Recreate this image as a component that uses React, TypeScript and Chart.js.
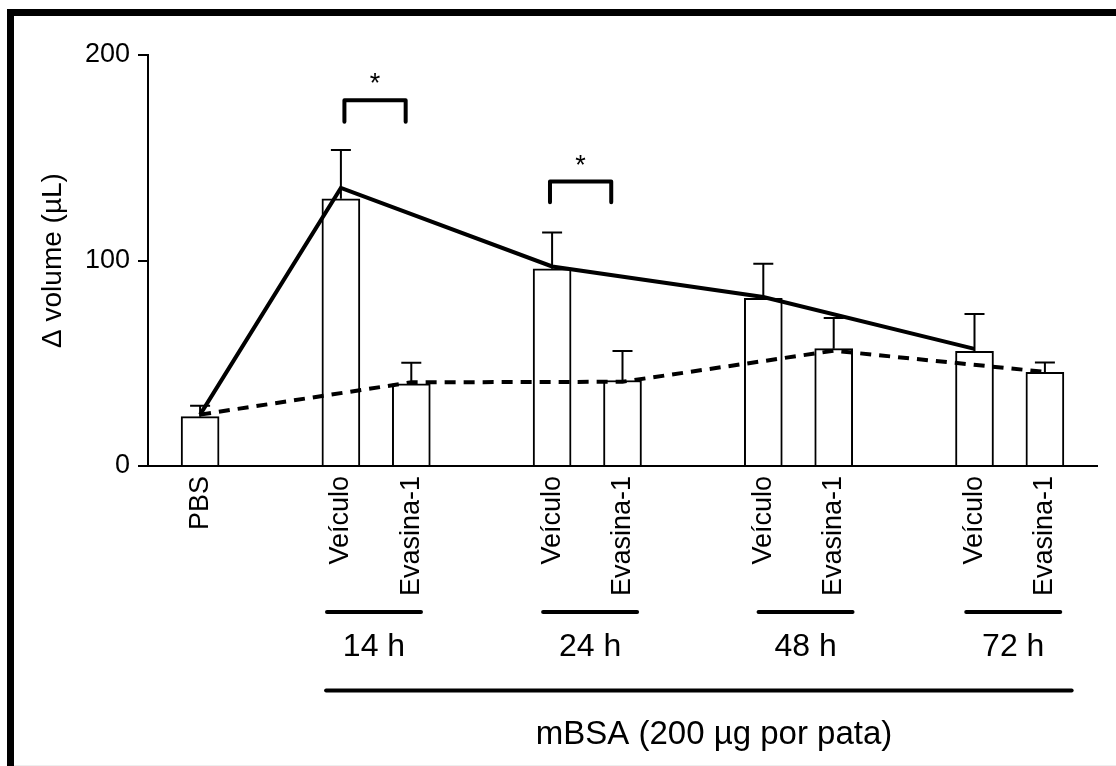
import React, { useEffect, useRef } from 'react';
import { Chart, registerables } from 'chart.js';

Chart.register(...registerables);

// ---- data ----
const categories = ['PBS', 'Veículo', 'Evasina-1', 'Veículo', 'Evasina-1', 'Veículo', 'Evasina-1', 'Veículo', 'Evasina-1'];
const slotPositions = [0, 2, 3, 5, 6, 8, 9, 11, 12];
const barValues = [24, 130, 40, 96, 41.6, 81.6, 57.1, 55.8, 45.6];
const errorTops = [29.3, 153.8, 50.2, 113.6, 56, 98.4, 72, 74, 50.4];
const vehicleLineX = [0, 2, 5, 8, 11];
const vehicleLineY = [25, 135.3, 97.1, 82.2, 57];
const evasinLineX = [0, 3, 6, 9, 12];
const evasinLineY = [25, 40.7, 41, 56.1, 45.8];
const groupLabels = ['14 h', '24 h', '48 h', '72 h'];
const groupCenters = [2.47, 5.54, 8.6, 11.55];
const yTickValues = [0, 100, 200];
const bracketFrom = [2.05, 4.97];
const bracketTo = [2.92, 5.84];
const bracketTop = [178, 138.4];
const bracketLeg = [167.5, 128.4];
const bracketMark = ['*', '*'];
const treatmentLabel = 'mBSA (200 µg por pata)';
const treatmentSpan = [1.79, 12.38];
const yTitle = 'Δ volume (µL)';

const FONT = '"Liberation Sans", Arial, Helvetica, sans-serif';

const decorPlugin = {
  id: 'decor',
  beforeDraw(chart: any) {
    const ctx = chart.ctx;
    ctx.save();
    ctx.fillStyle = '#fff';
    ctx.fillRect(0, 0, chart.width, chart.height);
    ctx.fillStyle = '#000';
    ctx.fillRect(7, 9, chart.width - 7, 7);
    ctx.fillRect(7, 9, 7, chart.height - 9);
    ctx.fillStyle = '#eeeeee';
    ctx.fillRect(14, chart.height - 1, chart.width - 14, 1);
    ctx.restore();
  },
  afterDatasetsDraw(chart: any) {
    const ctx = chart.ctx;
    const xs = chart.scales.x;
    const ys = chart.scales.y;
    ctx.save();
    ctx.strokeStyle = '#000';
    ctx.fillStyle = '#000';
    // error bars
    ctx.lineWidth = 2;
    for (let i = 0; i < barValues.length; i++) {
      const cx = xs.getPixelForValue(slotPositions[i]);
      const y1 = ys.getPixelForValue(barValues[i]);
      const y2 = ys.getPixelForValue(errorTops[i]);
      ctx.beginPath();
      ctx.moveTo(cx, y1);
      ctx.lineTo(cx, y2);
      ctx.moveTo(cx - 10, y2);
      ctx.lineTo(cx + 10, y2);
      ctx.stroke();
    }
    // significance brackets
    ctx.lineWidth = 4;
    ctx.lineCap = 'round';
    ctx.lineJoin = 'round';
    ctx.font = `27px ${FONT}`;
    ctx.textAlign = 'center';
    ctx.textBaseline = 'alphabetic';
    for (let i = 0; i < bracketFrom.length; i++) {
      const xa = xs.getPixelForValue(bracketFrom[i]);
      const xb = xs.getPixelForValue(bracketTo[i]);
      const yt = ys.getPixelForValue(bracketTop[i]);
      const yl = ys.getPixelForValue(bracketLeg[i]);
      ctx.beginPath();
      ctx.moveTo(xa, yl);
      ctx.lineTo(xa, yt);
      ctx.lineTo(xb, yt);
      ctx.lineTo(xb, yl);
      ctx.stroke();
      ctx.fillText(bracketMark[i], (xa + xb) / 2, yt - 8);
    }
    ctx.restore();
  },
  afterDraw(chart: any) {
    const ctx = chart.ctx;
    const xs = chart.scales.x;
    ctx.save();
    ctx.strokeStyle = '#000';
    ctx.fillStyle = '#000';
    ctx.lineCap = 'round';
    // group lines + labels
    ctx.lineWidth = 4;
    ctx.font = `32px ${FONT}`;
    ctx.textAlign = 'center';
    ctx.textBaseline = 'alphabetic';
    for (let i = 0; i < groupLabels.length; i++) {
      const cx = xs.getPixelForValue(groupCenters[i]);
      ctx.beginPath();
      ctx.moveTo(cx - 47, 612);
      ctx.lineTo(cx + 47, 612);
      ctx.stroke();
      ctx.fillText(groupLabels[i], cx, 656);
    }
    // treatment line + label
    const xa = xs.getPixelForValue(treatmentSpan[0]);
    const xb = xs.getPixelForValue(treatmentSpan[1]);
    ctx.lineWidth = 4;
    ctx.beginPath();
    ctx.moveTo(xa, 690.5);
    ctx.lineTo(xb, 690.5);
    ctx.stroke();
    ctx.font = `33px ${FONT}`;
    ctx.fillText(treatmentLabel, xs.getPixelForValue(7.3), 744);
    ctx.restore();
  },
};

export default function App() {
  const ref = useRef<HTMLCanvasElement | null>(null);
  useEffect(() => {
    if (!ref.current) return;
    const chart = new Chart(ref.current, {
      type: 'bar',
      data: {
        datasets: [
          {
            type: 'line',
            label: 'Veículo',
            data: vehicleLineX.map((x, i) => ({ x, y: vehicleLineY[i] })),
            borderColor: '#000',
            borderWidth: 4,
            pointRadius: 0,
            tension: 0,
            fill: false,
            order: 1,
          } as any,
          {
            type: 'line',
            label: 'Evasina-1',
            data: evasinLineX.map((x, i) => ({ x, y: evasinLineY[i] })),
            borderColor: '#000',
            borderWidth: 4,
            borderDash: [11, 8],
            pointRadius: 0,
            tension: 0,
            fill: false,
            order: 1,
          } as any,
          {
            type: 'bar',
            label: 'bars',
            data: slotPositions.map((x, i) => ({ x, y: barValues[i] })),
            backgroundColor: '#fff',
            borderColor: '#000',
            borderWidth: 2,
            barThickness: 38,
            order: 2,
          } as any,
        ],
      },
      options: {
        responsive: false,
        animation: false,
        layout: { padding: { top: 55, right: 19, bottom: 0, left: 0 } },
        plugins: { legend: { display: false }, tooltip: { enabled: false } },
        scales: {
          x: {
            type: 'linear',
            min: -0.74,
            max: 12.74,
            offset: false,
            afterBuildTicks: (scale: any) => {
              scale.ticks = slotPositions.map((v) => ({ value: v }));
            },
            afterFit: (scale: any) => {
              scale.height = 300;
            },
            grid: { display: false, drawTicks: false, offset: false },
            border: { display: true, color: '#000', width: 2 },
            ticks: {
              autoSkip: false,
              minRotation: 90,
              maxRotation: 90,
              padding: 10,
              color: '#000',
              font: { family: FONT, size: 27 },
              callback: (value: any) => {
                const idx = slotPositions.indexOf(Number(value));
                return idx >= 0 ? categories[idx] : '';
              },
            },
          },
          y: {
            type: 'linear',
            min: 0,
            max: 200,
            afterBuildTicks: (scale: any) => {
              scale.ticks = yTickValues.map((v) => ({ value: v }));
            },
            afterFit: (scale: any) => {
              scale.width = 148;
            },
            grid: { drawOnChartArea: false, drawTicks: true, tickLength: 10, color: '#000', lineWidth: 2 },
            border: { display: true, color: '#000', width: 2 },
            ticks: {
              padding: 8,
              color: '#000',
              font: { family: FONT, size: 27 },
            },
            title: {
              display: true,
              text: yTitle,
              color: '#000',
              font: { family: FONT, size: 28 },
              padding: { top: 36, bottom: 0 },
            },
          },
        },
      },
      plugins: [decorPlugin],
    });
    return () => chart.destroy();
  }, []);
  return (
    <div style={{ position: 'fixed', left: 0, top: 0, width: 1116, height: 766, background: '#fff' }}>
      <canvas ref={ref} width={1116} height={766} style={{ display: 'block' }} />
    </div>
  );
}
